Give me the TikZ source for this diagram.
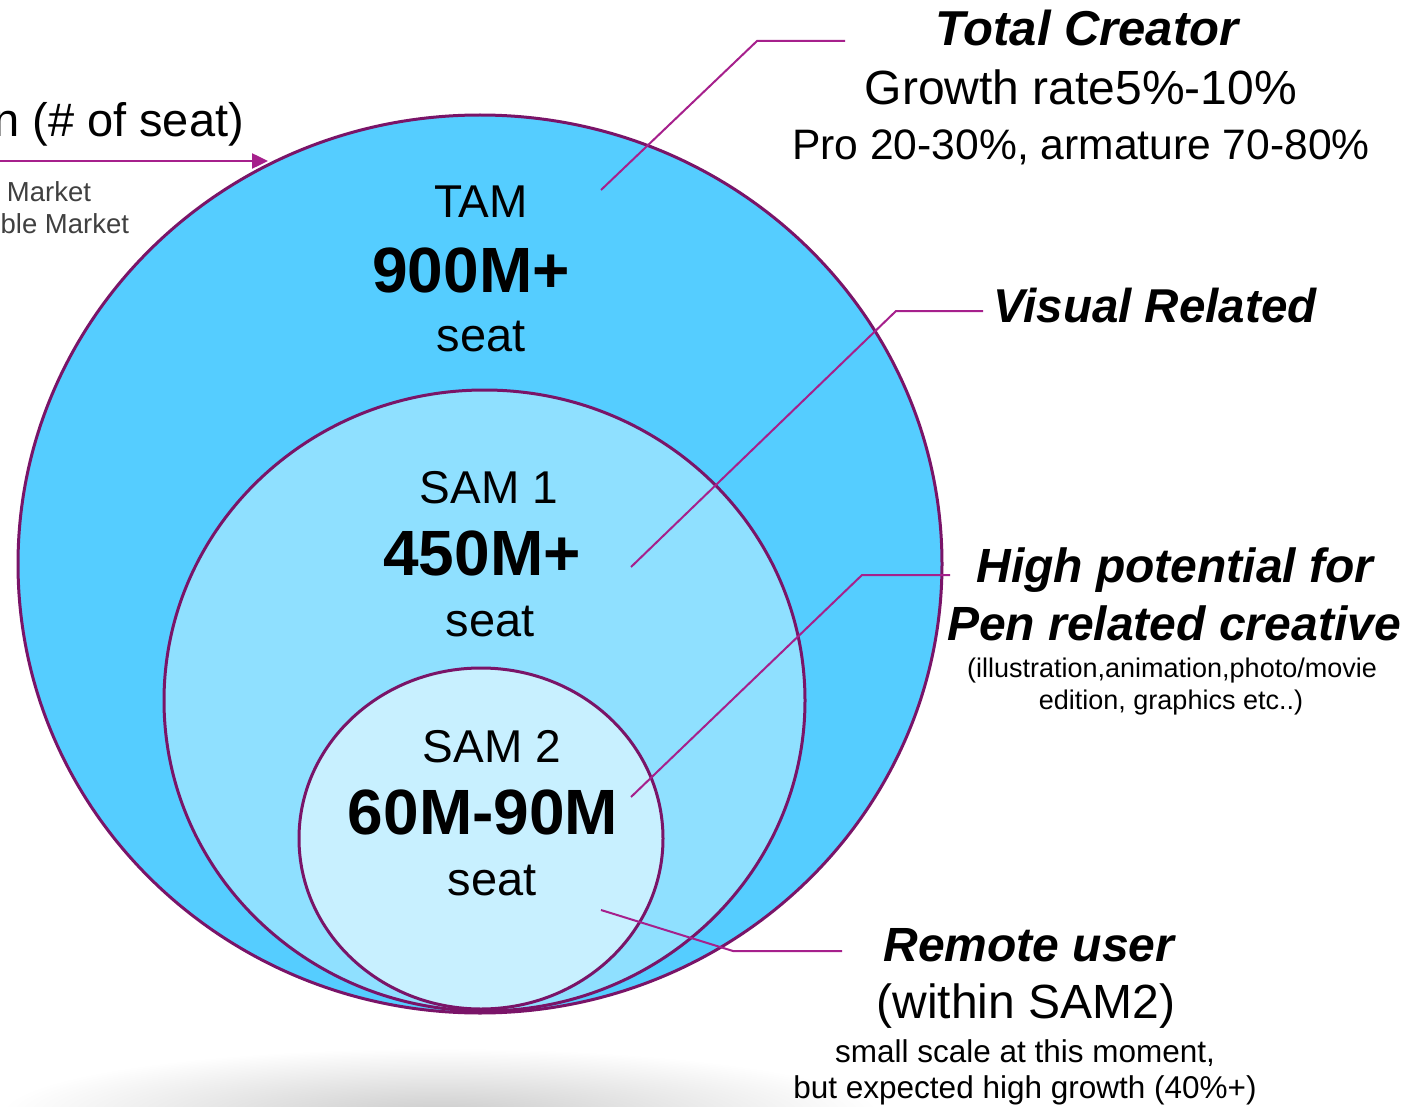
\documentclass[tikz,border=0pt]{standalone}
\usepackage{fontspec}
\setmainfont{Liberation Sans}
\usetikzlibrary{arrows.meta,shapes.geometric}
\definecolor{tamc}{HTML}{55CDFF}
\definecolor{samonec}{HTML}{8FE0FF}
\definecolor{samtwoc}{HTML}{C8F0FF}
\definecolor{rimc}{HTML}{7A1468}
\definecolor{leadc}{HTML}{A6208C}
\definecolor{notec}{HTML}{404040}
\newcommand\fsz[1]{\fontsize{#1}{#1}\selectfont}
\begin{document}
\begin{tikzpicture}[x=1pt,y=-1pt,
  rim/.style={ellipse,draw=rimc,line width=3pt,inner sep=0pt,outer sep=0pt},
  lead/.style={draw=leadc,line width=2pt},
  txt/.style={anchor=base,inner sep=0pt,outer sep=0pt,text=black},
  big/.style={txt,font=\fsz{46}},
  num/.style={txt,font=\fsz{64}\bfseries},
  head/.style={txt,font=\fsz{48}\bfseries\itshape},
  note/.style={inner sep=0pt,outer sep=0pt,anchor=base east,text=notec,font=\fsz{27.5}}]
\useasboundingbox (0,0) rectangle (1413,1107);
\fill[white] (0,0) rectangle (1413,1107);
% bottom shadow
\shade[inner color=black!20, outer color=white] (440,1114) ellipse [x radius=440pt, y radius=66pt];
% circles
\node[rim,fill=tamc,minimum width=924pt,minimum height=898pt] (tam) at (480,564) {};
\node[rim,fill=samonec,minimum width=641pt,minimum height=621pt] (samone) at (484.5,700.5) {};
\node[rim,fill=samtwoc,minimum width=364pt,minimum height=341pt] (samtwo) at (481,838.5) {};
% leader lines
\coordinate (l1a) at (601,190); \coordinate (l1b) at (757,41); \coordinate (l1c) at (845,41);
\coordinate (l2a) at (631,567); \coordinate (l2b) at (896,311); \coordinate (l2c) at (983,311);
\coordinate (l3a) at (631,797); \coordinate (l3b) at (862,575); \coordinate (l3c) at (950,575);
\coordinate (l4a) at (601,910); \coordinate (l4b) at (733,951); \coordinate (l4c) at (842,951);
\draw[lead] (l1a) -- (l1b) -- (l1c);
\draw[lead] (l2a) -- (l2b) -- (l2c);
\draw[lead] (l3a) -- (l3b) -- (l3c);
\draw[lead] (l4a) -- (l4b) -- (l4c);
% arrow at top left
\coordinate (a0) at (-5,161);
\coordinate (a1) at (268,161);
\draw[lead,line width=2.5pt,-{Triangle[length=16pt,width=15pt]}] (a0) -- (a1);
\node[txt,anchor=base east,font=\fsz{47}] (axis) at (244,137) {n (\# of seat)};
\node[note] (n1) at (91,202) {Market};
\node[note] (n2) at (129,234) {ble Market};
% circle texts
\node[big] (t1) at (481,218) {TAM};
\node[num] (t2) at (471,292) {900M+};
\node[big,font=\fsz{47}] (t3) at (481,351) {seat};
\node[big] (s1) at (489,503) {SAM 1};
\node[num] (s2) at (482,575) {450M+};
\node[big,font=\fsz{47}] (s3) at (490,636) {seat};
\node[big] (u1) at (492,762) {SAM 2};
\node[num] (u2) at (483,834) {60M-90M};
\node[big,font=\fsz{47}] (u3) at (492,895) {seat};
% right texts
\node[head,font=\fsz{49}\bfseries\itshape] (r1) at (1087,46) {Total Creator};
\node[txt,font=\fsz{48}] (r2) at (1081,105) {Growth rate5\%-10\%};
\node[txt,font=\fsz{42.6}] (r3) at (1081,160) {Pro 20-30\%, armature 70-80\%};
\node[head,font=\fsz{47.5}\bfseries\itshape] (v1) at (1155,322) {Visual Related};
\node[head] (h1) at (1175,582) {High potential for};
\node[head] (h2) at (1174,640) {Pen related creative};
\node[txt,font=\fsz{27}] (h3) at (1172,677) {(illustration,animation,photo/movie};
\node[txt,font=\fsz{27}] (h4) at (1171,709) {edition, graphics etc..)};
\node[head] (m1) at (1029,961) {Remote user};
\node[txt,font=\fsz{48}] (m2) at (1026,1018) {(within SAM2)};
\node[txt,font=\fsz{31.5}] (m3) at (1025,1062) {small scale at this moment,};
\node[txt,font=\fsz{31.5}] (m4) at (1025,1098) {but expected high growth (40\%+)};
\end{tikzpicture}
\end{document}
